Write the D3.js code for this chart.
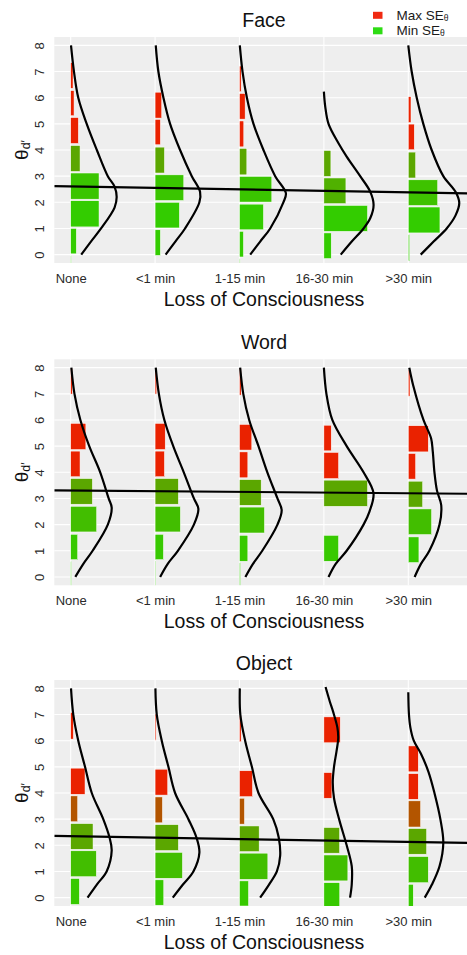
<!DOCTYPE html>
<html>
<head>
<meta charset="utf-8">
<script src="https://cdn.jsdelivr.net/npm/d3@7"></script>
<style>
  html, body { margin: 0; padding: 0; background: #fff; }
  svg { display: block; font-family: "Liberation Sans", Arial, Helvetica, sans-serif; }
</style>
</head>
<body>
<div id="chart"></div>
<script>
// ---------------- DATA ----------------
const categories = ["None", "<1 min", "1-15 min", "16-30 min", ">30 min"];
const panelTitles = ["Face", "Word", "Object"];
const yTicks = [0, 1, 2, 3, 4, 5, 6, 7, 8];
const legendLabels = ["Max SE", "Min SE"];

// bins per category: [theta low, theta high, bar length (category units), relative SE 0..1]
const faceBins = [
  [[6.36,7.34,0.028,1],[5.31,6.27,0.040,1],[4.25,5.24,0.091,1],[3.18,4.17,0.111,0.22],[2.12,3.12,0.336,0.04],[1.06,2.06,0.336,0],[0.03,1.00,0.067,0],[-1.0,-0.03,0.005,0]],
  [[5.22,6.21,0.079,1],[4.20,5.17,0.063,1],[3.12,4.11,0.111,0.22],[2.07,3.05,0.340,0.04],[1.02,2.00,0.288,0],[-0.03,0.95,0.063,0]],
  [[6.23,7.21,0.020,1],[5.18,6.16,0.067,1],[4.12,5.11,0.051,1],[3.05,4.06,0.087,0.22],[2.01,2.99,0.383,0.04],[0.95,1.93,0.284,0],[-0.09,0.89,0.047,0],[-1.1,-0.15,0.005,0]],
  [[2.99,3.98,0.083,0.22],[1.95,2.93,0.261,0.16],[0.89,1.88,0.517,0],[-0.15,0.83,0.087,0]],
  [[5.05,6.04,0.032,1],[4.01,4.99,0.071,1],[2.93,3.92,0.087,0.22],[1.88,2.86,0.348,0.06],[0.83,1.82,0.375,0],[-0.23,0.76,0.016,0]]
];
const wordBins = [
  [[6.99,7.97,0.020,1],[4.87,5.87,0.180,1],[3.83,4.81,0.111,1],[2.78,3.76,0.257,0.22],[1.72,2.70,0.308,0.08],[0.66,1.63,0.083,0.02],[-0.32,0.60,0.008,0]],
  [[6.99,7.97,0.020,1],[4.87,5.87,0.120,1],[3.83,4.81,0.111,1],[2.78,3.76,0.276,0.22],[1.72,2.70,0.300,0.08],[0.66,1.63,0.099,0.02],[-0.32,0.60,0.008,0]],
  [[6.95,7.97,0.020,1],[4.85,5.83,0.146,1],[3.79,4.78,0.099,1],[2.74,3.72,0.257,0.22],[1.68,2.67,0.296,0.08],[0.60,1.59,0.099,0.02],[-0.32,0.54,0.012,0]],
  [[4.82,5.80,0.087,1],[3.76,4.76,0.174,1],[2.70,3.70,0.517,0.22],[0.60,1.59,0.174,0.02]],
  [[6.91,7.91,0.020,1],[4.78,5.78,0.237,1],[3.74,4.72,0.087,1],[2.67,3.66,0.170,0.22],[1.62,2.60,0.276,0.08],[0.55,1.53,0.126,0.02]]
];
const objectBins = [
  [[6.06,7.08,0.032,1],[3.95,4.95,0.170,1],[2.90,3.89,0.083,0.7],[1.85,2.83,0.265,0.22],[0.80,1.79,0.304,0.08],[-0.26,0.73,0.103,0.02]],
  [[6.02,7.02,0.012,1],[3.92,4.91,0.150,1],[2.86,3.85,0.087,0.7],[1.80,2.79,0.276,0.22],[0.74,1.73,0.324,0.08],[-0.29,0.68,0.103,0.02]],
  [[5.96,6.95,0.020,1],[3.86,4.85,0.154,1],[2.81,3.80,0.059,0.7],[1.76,2.74,0.233,0.22],[0.70,1.70,0.336,0.08],[-0.32,0.64,0.107,0.02]],
  [[5.92,6.91,0.194,1],[3.80,4.78,0.095,1],[1.70,2.68,0.186,0.22],[0.64,1.63,0.284,0.08],[-0.38,0.57,0.188,0.02]],
  [[4.81,5.80,0.118,1],[3.76,4.74,0.118,1],[2.70,3.70,0.146,0.7],[1.66,2.64,0.217,0.22],[0.57,1.57,0.237,0.08],[-0.38,0.51,0.059,0.02]]
];

// density curves per category: [theta, density (category units)]
const faceCurves = [
  [[8,0.004],[7,0.039],[6,0.09],[5,0.19],[4,0.31],[3,0.44],[2.6,0.52],[2.2,0.545],[1.8,0.52],[1,0.36],[0.5,0.24],[0,0.125]],
  [[8,0.008],[7,0.039],[6,0.099],[5,0.178],[4,0.296],[3,0.435],[2.4,0.533],[2,0.525],[1,0.355],[0.5,0.24],[0,0.125]],
  [[8,0.004],[7,0.036],[6,0.088],[5,0.166],[4,0.284],[3,0.423],[2.35,0.55],[2,0.52],[1,0.364],[0.5,0.245],[0,0.127]],
  [[6.23,0],[5.66,0.016],[5,0.055],[4.26,0.173],[3.75,0.27],[3,0.43],[2.4,0.55],[1.9,0.589],[1.4,0.55],[1,0.47],[0.5,0.33],[0,0.2]],
  [[8,0],[7,0.04],[6,0.1],[5,0.178],[4,0.277],[3,0.415],[2.4,0.56],[1.97,0.604],[1.5,0.56],[1,0.455],[0.5,0.3],[0,0.147]]
];
const wordCurves = [
  [[8,0.008],[7,0.045],[6,0.115],[5,0.22],[4,0.35],[3,0.45],[2.65,0.486],[2,0.44],[1,0.26],[0.5,0.15],[0,0.055]],
  [[8,0.008],[7,0.045],[6,0.11],[5,0.215],[4,0.34],[3,0.46],[2.6,0.513],[2,0.46],[1,0.27],[0.5,0.15],[0,0.06]],
  [[8,0.008],[7,0.045],[6,0.115],[5,0.225],[4,0.33],[3,0.45],[2.55,0.5],[2,0.45],[1,0.27],[0.5,0.16],[0,0.07]],
  [[8,0],[7,0.03],[6,0.1],[5,0.27],[4,0.47],[3.2,0.588],[2.5,0.54],[2,0.47],[1,0.27],[0.5,0.14],[0,0.055]],
  [[8,0.012],[7.3,0.06],[6,0.18],[5.3,0.27],[4.8,0.29],[4,0.31],[3.3,0.34],[2.75,0.39],[2,0.37],[1,0.25],[0.5,0.15],[0,0.075]]
];
const objectCurves = [
  [[8,0.004],[7,0.031],[6,0.09],[5,0.17],[4,0.25],[3,0.386],[2.3,0.46],[1.8,0.486],[1,0.426],[0.5,0.31],[0,0.2]],
  [[8,0.004],[7,0.02],[6,0.079],[5,0.158],[4,0.237],[3,0.395],[2.3,0.49],[1.72,0.525],[1,0.454],[0.5,0.33],[0,0.21]],
  [[8,0.004],[7,0.01],[6,0.067],[5,0.147],[4,0.225],[3,0.4],[2.3,0.465],[1.6,0.482],[1,0.443],[0.5,0.35],[0,0.245]],
  [[8.05,0.02],[7.5,0.07],[7.1,0.11],[6.5,0.16],[6.1,0.17],[5.6,0.15],[5,0.12],[4.4,0.105],[3.8,0.12],[3,0.18],[2,0.27],[1.2,0.33],[0.5,0.33],[0,0.31]],
  [[7.85,0],[7,0.008],[6.5,0.025],[6,0.065],[5.5,0.15],[4.8,0.24],[4,0.31],[3,0.38],[2.1,0.415],[1.2,0.37],[0.5,0.28],[0,0.195]]
];

// regression line per panel (theta = intercept + slope * category index)
const regIntercept = [2.667, 3.332, 2.405];
const regSlope = [-0.0574, -0.0266, -0.0553];

const allBins = [faceBins, wordBins, objectBins];
const allCurves = [faceCurves, wordCurves, objectCurves];

// ---------------- LAYOUT ----------------
const W = 467, H = 955;
const plotLeft = 54.3, plotRight = 473.7;
const panelTops = [37, 359.3, 680];
const panelH = 226;
const xDomain = [0.806, 5.775];
const FONT = "Liberation Sans, Arial, sans-serif";

const svg = d3.select("#chart").append("svg")
  .attr("width", W).attr("height", H).attr("viewBox", `0 0 ${W} ${H}`);

const x = d3.scaleLinear().domain(xDomain).range([plotLeft, plotRight]);
const seColor = d3.interpolateRgb("#33cc00", "#ea2200");

const line = d3.line()
  .x(d => d[0]).y(d => d[1])
  .curve(d3.curveCatmullRom.alpha(0.5));

panelTitles.forEach((title, p) => {
  const top = panelTops[p];
  const y = d3.scaleLinear().domain([-0.32, 8.32]).range([top + panelH, top]);
  const g = svg.append("g");

  const clipId = "clip" + p;
  svg.append("clipPath").attr("id", clipId)
    .append("rect").attr("x", plotLeft).attr("y", top)
    .attr("width", plotRight - plotLeft).attr("height", panelH);

  // panel background
  g.append("rect").attr("x", plotLeft).attr("y", top)
    .attr("width", plotRight - plotLeft).attr("height", panelH)
    .attr("fill", "#eeeeee");

  // gridlines
  g.append("g").selectAll("line").data(yTicks).join("line")
    .attr("x1", plotLeft).attr("x2", plotRight)
    .attr("y1", d => y(d)).attr("y2", d => y(d))
    .attr("stroke", "#fff").attr("stroke-width", 1.1);
  g.append("g").selectAll("line").data(categories).join("line")
    .attr("x1", (d, i) => x(i + 1)).attr("x2", (d, i) => x(i + 1))
    .attr("y1", top).attr("y2", top + panelH)
    .attr("stroke", "#fff").attr("stroke-width", 1.1);

  const inner = g.append("g").attr("clip-path", `url(#${clipId})`);

  // histogram bars
  allBins[p].forEach((bins, c) => {
    const cx = c + 1;
    inner.append("g").selectAll("rect").data(bins).join("rect")
      .attr("x", x(cx))
      .attr("width", d => Math.max(0.6, x(cx + d[2]) - x(cx)))
      .attr("y", d => y(d[1]))
      .attr("height", d => y(d[0]) - y(d[1]))
      .attr("fill", d => seColor(d[3]))
      .attr("stroke", "#fff").attr("stroke-width", 0.5);
  });

  // density curves
  allCurves[p].forEach((pts, c) => {
    const cx = c + 1;
    inner.append("path")
      .attr("d", line(pts.map(d => [x(cx + d[1]), y(d[0])])))
      .attr("fill", "none").attr("stroke", "#000").attr("stroke-width", 2.2);
  });

  // regression line
  inner.append("line")
    .attr("x1", x(xDomain[0])).attr("x2", x(xDomain[1]))
    .attr("y1", y(regIntercept[p] + regSlope[p] * xDomain[0]))
    .attr("y2", y(regIntercept[p] + regSlope[p] * xDomain[1]))
    .attr("stroke", "#000").attr("stroke-width", 2.2);

  // x axis
  const xAxis = d3.axisBottom(x).tickValues([1, 2, 3, 4, 5])
    .tickFormat(d => categories[d - 1]).tickSize(0).tickPadding(10.5);
  const gx = svg.append("g").attr("transform", `translate(0,${top + panelH})`).call(xAxis);
  gx.select(".domain").remove();
  gx.selectAll("text").attr("font-size", 13).attr("fill", "#2a2a2a")
    .attr("font-family", FONT);

  // y axis
  const yAxis = d3.axisLeft(y).tickValues(yTicks).tickSize(0);
  const gy = svg.append("g").attr("transform", `translate(${plotLeft},0)`).call(yAxis);
  gy.select(".domain").remove();
  gy.selectAll("text")
    .attr("x", 0).attr("dy", 0).attr("text-anchor", "middle")
    .attr("transform", "translate(-10.5,0) rotate(-90)")
    .attr("font-size", 13).attr("fill", "#2a2a2a")
    .attr("font-family", FONT);

  // panel title
  svg.append("text").attr("x", (plotLeft + plotRight) / 2).attr("y", top - 10.3)
    .attr("text-anchor", "middle").attr("font-size", 19.5).attr("fill", "#111")
    .text(title);

  // x title
  svg.append("text").attr("x", (plotLeft + plotRight) / 2).attr("y", top + panelH + 42.5)
    .attr("text-anchor", "middle").attr("font-size", 19.5).attr("fill", "#111")
    .text("Loss of Consciousness");

  // y title θd'
  const yt = svg.append("text")
    .attr("transform", `translate(27.5,${top + panelH / 2}) rotate(-90)`)
    .attr("text-anchor", "middle").attr("fill", "#111");
  yt.append("tspan").attr("font-size", 19).text("θ");
  yt.append("tspan").attr("font-size", 12.5).attr("dy", 2).text("d′");
});

// legend
const legendColors = ["#f02a12", "#2edc14"];
const lg = svg.append("g");
legendLabels.forEach((lab, i) => {
  const yy = 11.8 + i * 15.5;
  lg.append("rect").attr("x", 373).attr("y", yy).attr("width", 9.5).attr("height", 7)
    .attr("fill", legendColors[i]);
  const t = lg.append("text").attr("x", 396.5).attr("y", yy + 8)
    .attr("font-size", 13.5).attr("fill", "#1a1a1a");
  t.append("tspan").text(lab);
  t.append("tspan").attr("font-size", 8.5).attr("dy", 1).text("θ");
});
</script>
</body>
</html>
